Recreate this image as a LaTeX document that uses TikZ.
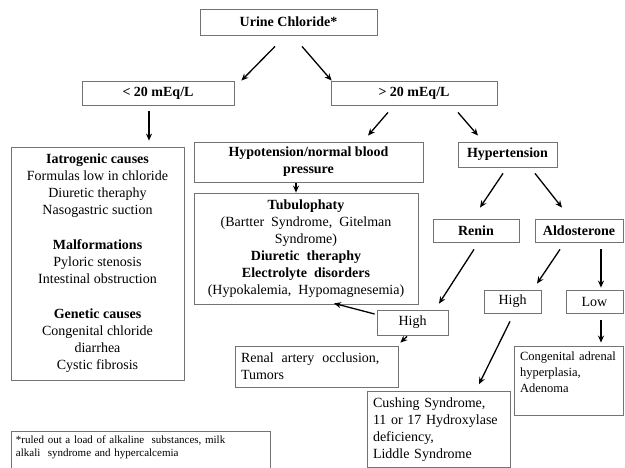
\documentclass[tikz,border=0pt]{standalone}
\usepackage{fontspec}
\setmainfont{Liberation Serif}
\usetikzlibrary{arrows.meta}
\begin{document}
\begin{tikzpicture}[
  x=1pt, y=-1pt,
  every node/.style={font=\fontsize{14}{17}\selectfont},
  box/.style={
    draw=black!55,
    line width=0.8pt,
    align=center,
    inner sep=3pt
  },
  title/.style={box, font=\fontsize{14}{17}\selectfont\bfseries},
  leftbox/.style={box, align=left, inner sep=6pt},
  arrow/.style={-{Stealth[length=7pt,width=6pt]}, line width=1.3pt}
]
\useasboundingbox (0,0) rectangle (625,468);
\node[title, minimum width=177pt, minimum height=26pt] (urine) at (288.5,22) {Urine Chloride*};
\node[title, minimum width=152pt, minimum height=24pt] (low) at (158,93) {< 20 mEq/L};
\node[title, minimum width=166pt, minimum height=24pt] (high) at (414,93) {> 20 mEq/L};
\node[box, minimum width=173pt, minimum height=233pt] (causes) at (97.5,263.5) {\textbf{Iatrogenic causes}\\Formulas low in chloride\\Diuretic theraphy\\Nasogastric suction\\[18pt]\textbf{Malformations}\\Pyloric stenosis\\Intestinal obstruction\\[18pt]\textbf{Genetic causes}\\Congenital chloride\\diarrhea\\Cystic fibrosis};
\node[title, minimum width=229pt, minimum height=40pt] (hypo) at (308.5,162) {Hypotension/normal blood\\pressure};
\node[box, minimum width=224pt, minimum height=111pt] (tubulo) at (306,248.5) {\spaceskip=7pt\relax\textbf{Tubulophaty}\\\spaceskip=7pt\relax(Bartter Syndrome, Gitelman\\Syndrome)\\\spaceskip=7pt\relax\textbf{Diuretic theraphy}\\\spaceskip=7pt\relax\textbf{Electrolyte disorders}\\\spaceskip=7pt\relax(Hypokalemia, Hypomagnesemia)};
\node[title, minimum width=99pt, minimum height=25pt] (hyper) at (507.5,154.5) {Hypertension};
\node[title, minimum width=86pt, minimum height=23pt] (renin) at (476,230.5) {Renin};
\node[title, minimum width=88pt, minimum height=23pt] (aldo) at (579,230.5) {Aldosterone};
\node[box, minimum width=71pt, minimum height=25pt] (reninhigh) at (412.5,322.5) {High};
\node[box, minimum width=57pt, minimum height=23pt] (aldohigh) at (512.5,301.5) {High};
\node[box, minimum width=57pt, minimum height=23pt] (aldolow) at (594.5,301.5) {Low};
\node[leftbox, text width=151pt, minimum height=41pt] (renal) at (316.5,366.5) {Renal\hspace{8pt}artery\hspace{8pt}occlusion,\\Tumors};
\node[leftbox, text width=131pt, minimum height=75pt] (cushing) at (438.5,429.5) {Cushing Syndrome,\\11 or 17 Hydroxylase\\deficiency,\\Liddle Syndrome};
\node[leftbox, text width=97pt, minimum height=69pt, font=\fontsize{12.5}{16}\selectfont] (congen) at (568.5,380.5) {Congenital adrenal\\hyperplasia,\\Adenoma\\\mbox{}};
\node[leftbox, text width=249pt, inner sep=5pt, minimum height=40pt, font=\fontsize{11}{13}\selectfont] (note) at (140.5,453) {*ruled out a load of alkaline\ \ substances, milk\\alkali\ \ syndrome and hypercalcemia\\\mbox{}};
\draw[arrow] ([xshift=-13.5pt,yshift=-11pt]urine.south) -- ([xshift=7pt]low.north east);
\draw[arrow] ([xshift=13.5pt,yshift=-11pt]urine.south) -- ([xshift=1pt]high.north west);
\draw[arrow] ([xshift=-9pt,yshift=-6pt]low.south) -- ([xshift=51.5pt,yshift=6pt]causes.north);
\draw[arrow] ([xshift=-26pt,yshift=-7pt]high.south) -- ([xshift=59.5pt,yshift=6pt]hypo.north);
\draw[arrow] ([xshift=44pt,yshift=-7pt]high.south) -- ([xshift=-29.5pt,yshift=6pt]hyper.north);
\draw[arrow] ([xshift=-12.5pt,yshift=-1pt]hypo.south) -- ([xshift=-10pt]tubulo.north);
\draw[arrow] ([xshift=-4.5pt,yshift=-6pt]hyper.south) -- ([xshift=4pt,yshift=11pt]renin.north);
\draw[arrow] ([xshift=27.5pt,yshift=-6pt]hyper.south) -- ([xshift=-17pt,yshift=11pt]aldo.north);
\draw[arrow] ([xshift=-2pt,yshift=-7pt]renin.south) -- ([xshift=26.5pt,yshift=6pt]reninhigh.north);
\draw[arrow] ([xshift=-2pt,yshift=8.5pt]reninhigh.west) -- ([xshift=28pt,yshift=1pt]tubulo.south);
\draw[arrow] ([xshift=-5.5pt,yshift=-1pt]reninhigh.south) -- ([xshift=2pt,yshift=3pt]renal.north east);
\draw[arrow] ([xshift=-19pt,yshift=-7pt]aldo.south) -- ([xshift=24.5pt,yshift=6pt]aldohigh.north);
\draw[arrow] ([xshift=22pt,yshift=-7pt]aldo.south) -- ([xshift=6.5pt,yshift=2pt]aldolow.north);
\draw[arrow] ([xshift=-2.5pt,yshift=-8pt]aldohigh.south) -- ([xshift=40.5pt,yshift=7pt]cushing.north);
\draw[arrow] ([xshift=6.5pt,yshift=-7pt]aldolow.south) -- ([xshift=32.5pt,yshift=3pt]congen.north);
\end{tikzpicture}
\end{document}
